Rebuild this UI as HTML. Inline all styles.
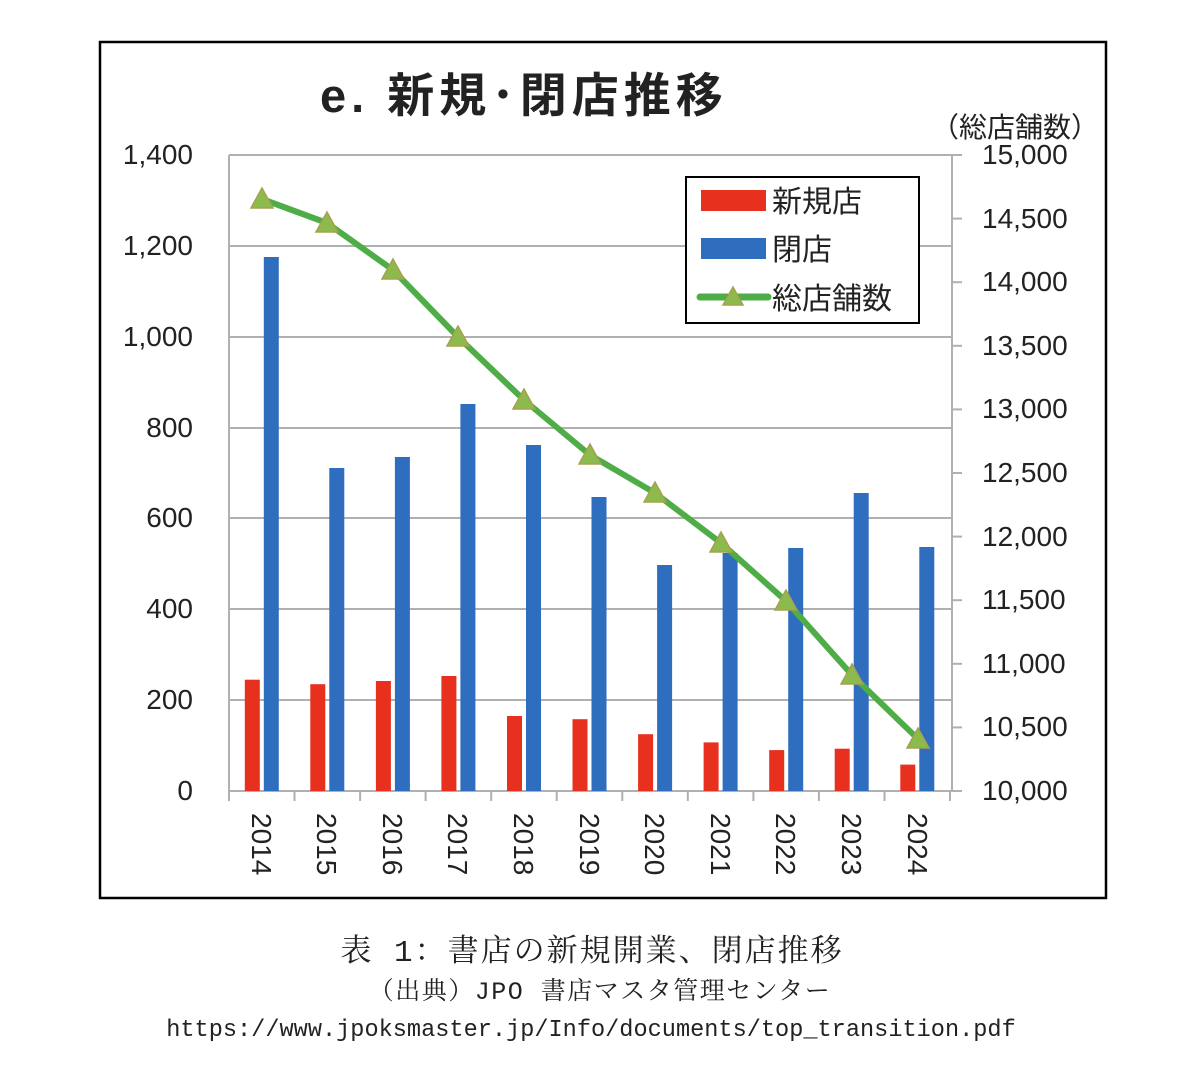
<!DOCTYPE html>
<html><head><meta charset="utf-8"><style>
body{margin:0;background:#fff;}
svg text{font-family:"Liberation Sans","Noto Sans CJK JP",sans-serif;}
</style></head><body>
<svg width="1200" height="1082" viewBox="0 0 1200 1082" xmlns="http://www.w3.org/2000/svg">
<rect x="100" y="42" width="1006" height="856" fill="#fff" stroke="#000" stroke-width="2.5"/>
<text x="320" y="112" font-size="47" font-weight="bold" fill="#222" letter-spacing="5">e. 新規･閉店推移</text>
<text x="1099" y="137" font-size="28" fill="#222" text-anchor="end">（総店舗数）</text>
<g stroke="#b0b0b0" stroke-width="2">
<line x1="229" y1="155" x2="952" y2="155"/>
<line x1="229" y1="246" x2="952" y2="246"/>
<line x1="229" y1="337" x2="952" y2="337"/>
<line x1="229" y1="428" x2="952" y2="428"/>
<line x1="229" y1="518" x2="952" y2="518"/>
<line x1="229" y1="609" x2="952" y2="609"/>
<line x1="229" y1="700" x2="952" y2="700"/>
<line x1="229" y1="155" x2="229" y2="801"/>
<line x1="952" y1="155" x2="952" y2="791"/>
<line x1="229" y1="791" x2="952" y2="791"/>
<line x1="952" y1="155" x2="962" y2="155"/><line x1="952" y1="218.6" x2="962" y2="218.6"/><line x1="952" y1="282.2" x2="962" y2="282.2"/><line x1="952" y1="345.8" x2="962" y2="345.8"/><line x1="952" y1="409.4" x2="962" y2="409.4"/><line x1="952" y1="473" x2="962" y2="473"/><line x1="952" y1="536.6" x2="962" y2="536.6"/><line x1="952" y1="600.2" x2="962" y2="600.2"/><line x1="952" y1="663.8" x2="962" y2="663.8"/><line x1="952" y1="727.4" x2="962" y2="727.4"/><line x1="952" y1="791" x2="962" y2="791"/>
<line x1="294.5" y1="791" x2="294.5" y2="801"/><line x1="360.1" y1="791" x2="360.1" y2="801"/><line x1="425.6" y1="791" x2="425.6" y2="801"/><line x1="491.2" y1="791" x2="491.2" y2="801"/><line x1="556.7" y1="791" x2="556.7" y2="801"/><line x1="622.3" y1="791" x2="622.3" y2="801"/><line x1="687.8" y1="791" x2="687.8" y2="801"/><line x1="753.4" y1="791" x2="753.4" y2="801"/><line x1="818.9" y1="791" x2="818.9" y2="801"/><line x1="884.5" y1="791" x2="884.5" y2="801"/><line x1="950" y1="791" x2="950" y2="801"/>
</g>
<g font-size="28" fill="#222" text-anchor="end">
<text x="193" y="164">1,400</text><text x="193" y="255">1,200</text><text x="193" y="346">1,000</text><text x="193" y="437">800</text><text x="193" y="527">600</text><text x="193" y="618">400</text><text x="193" y="709">200</text><text x="193" y="800">0</text>
</g>
<g font-size="28" fill="#222">
<text x="982" y="164">15,000</text><text x="982" y="228">14,500</text><text x="982" y="291">14,000</text><text x="982" y="355">13,500</text><text x="982" y="418">13,000</text><text x="982" y="482">12,500</text><text x="982" y="546">12,000</text><text x="982" y="609">11,500</text><text x="982" y="673">11,000</text><text x="982" y="736">10,500</text><text x="982" y="800">10,000</text>
</g>
<g fill="#e8301f">
<rect x="244.8" y="679.7" width="15" height="111.3"/><rect x="310.3" y="684.2" width="15" height="106.8"/><rect x="375.9" y="681" width="15" height="110"/><rect x="441.4" y="676" width="15" height="115"/><rect x="507" y="716" width="15" height="75"/><rect x="572.5" y="719.2" width="15" height="71.8"/><rect x="638.1" y="734.2" width="15" height="56.8"/><rect x="703.6" y="742.4" width="15" height="48.6"/><rect x="769.2" y="750.1" width="15" height="40.9"/><rect x="834.7" y="748.7" width="15" height="42.3"/><rect x="900.3" y="764.6" width="15" height="26.4"/>
</g>
<g fill="#2f6dbf">
<rect x="263.8" y="257" width="15" height="534"/><rect x="329.3" y="468" width="15" height="323"/><rect x="394.9" y="457" width="15" height="334"/><rect x="460.4" y="404" width="15" height="387"/><rect x="526" y="445" width="15" height="346"/><rect x="591.5" y="497" width="15" height="294"/><rect x="657.1" y="565" width="15" height="226"/><rect x="722.6" y="553" width="15" height="238"/><rect x="788.2" y="548" width="15" height="243"/><rect x="853.7" y="493" width="15" height="298"/><rect x="919.3" y="547" width="15" height="244"/>
</g>
<polyline points="262,199 327,223 393,270 458,337 524,400 590,455 655,493 721,543 786,601 852,675 918,739" fill="none" stroke="#4fad47" stroke-width="6" stroke-linejoin="round"/>
<g fill="#8dba4d" stroke="#a8a050" stroke-width="1.5">
<polygon points="262,188 251,208 273,208"/><polygon points="327,212 316,232 338,232"/><polygon points="393,259 382,279 404,279"/><polygon points="458,326 447,346 469,346"/><polygon points="524,389 513,409 535,409"/><polygon points="590,444 579,464 601,464"/><polygon points="655,482 644,502 666,502"/><polygon points="721,532 710,552 732,552"/><polygon points="786,590 775,610 797,610"/><polygon points="852,664 841,684 863,684"/><polygon points="918,728 907,748 929,748"/>
</g>
<g font-size="28" fill="#222">
<text transform="translate(252,813) rotate(90)">2014</text><text transform="translate(317,813) rotate(90)">2015</text><text transform="translate(383,813) rotate(90)">2016</text><text transform="translate(448,813) rotate(90)">2017</text><text transform="translate(514,813) rotate(90)">2018</text><text transform="translate(580,813) rotate(90)">2019</text><text transform="translate(645,813) rotate(90)">2020</text><text transform="translate(711,813) rotate(90)">2021</text><text transform="translate(776,813) rotate(90)">2022</text><text transform="translate(842,813) rotate(90)">2023</text><text transform="translate(908,813) rotate(90)">2024</text>
</g>
<rect x="686" y="177" width="233" height="146" fill="#fff" stroke="#000" stroke-width="2"/>
<rect x="701" y="190" width="65" height="21" fill="#e8301f"/>
<rect x="701" y="238" width="65" height="21" fill="#2f6dbf"/>
<line x1="700" y1="297" x2="768" y2="297" stroke="#4fad47" stroke-width="7" stroke-linecap="round"/>
<polygon points="733,287 723,305 743,305" fill="#8dba4d" stroke="#a8a050" stroke-width="1.5"/>
<g font-size="30" fill="#222">
<text x="772" y="212">新規店</text><text x="772" y="260">閉店</text><text x="772" y="309">総店舗数</text>
</g>
<g fill="#222" text-anchor="middle" style="font-family:'Liberation Mono','Noto Serif CJK SC',monospace">
<text x="592" y="961" font-size="31" letter-spacing="2" style="font-family:'Liberation Mono','Noto Serif CJK SC',monospace">表 1：書店の新規開業、閉店推移</text>
<text x="600" y="999" font-size="25" letter-spacing="1.5" style="font-family:'Liberation Mono','Noto Serif CJK SC',monospace">（出典）JPO 書店マスタ管理センター</text>
<text x="591" y="1036" font-size="23.6" style="font-family:'Liberation Mono',monospace">https://www.jpoksmaster.jp/Info/documents/top_transition.pdf</text>
</g>
</svg>
</body></html>
